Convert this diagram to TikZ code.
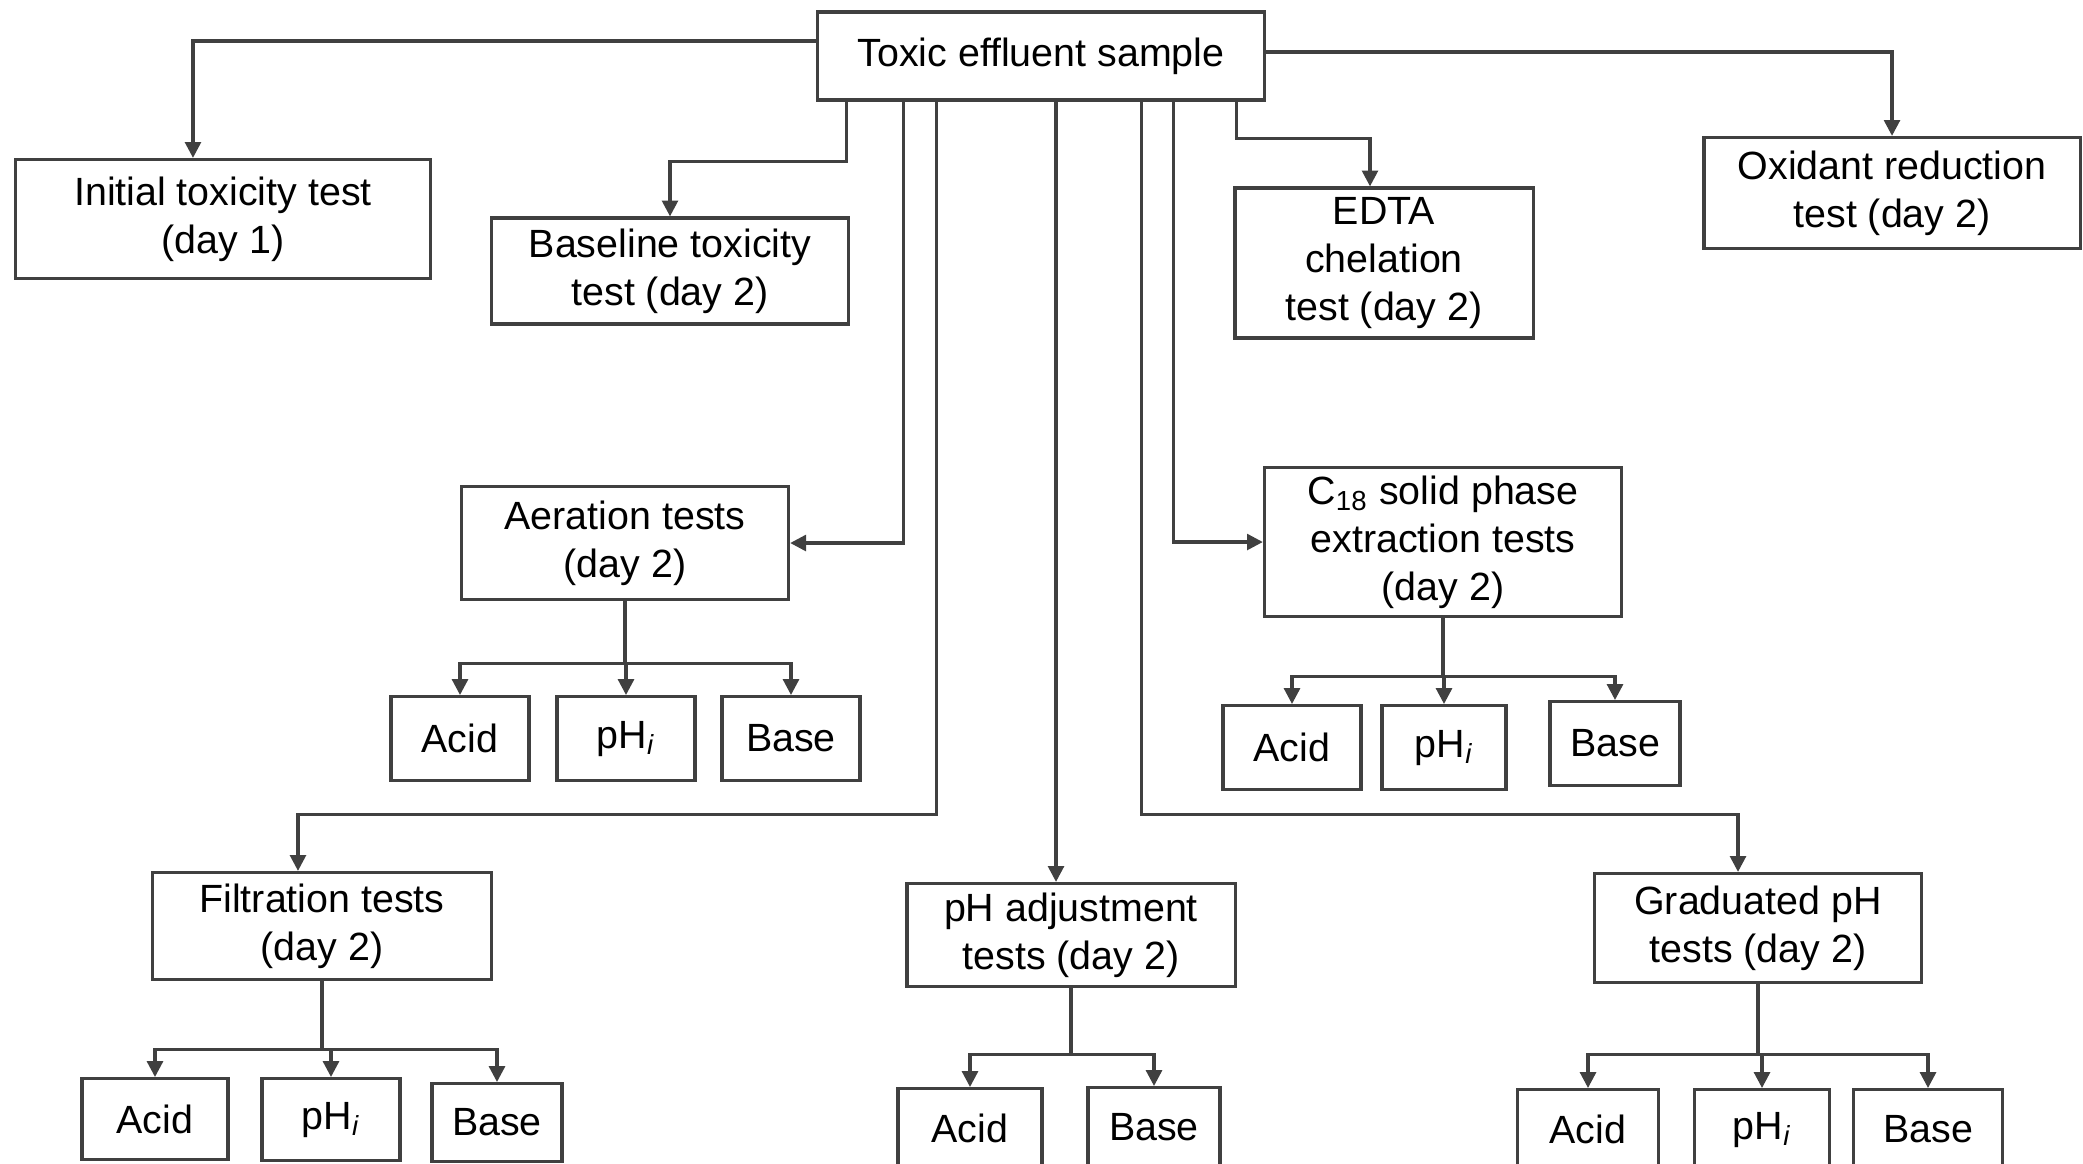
\documentclass[tikz,border=0pt]{standalone}
\usepackage{fontspec}
\setmainfont{Liberation Sans}
\usetikzlibrary{arrows.meta}

\begin{document}
\begin{tikzpicture}[x=0.01cm, y=-0.01cm,
    box/.style={draw=black!75, line width=0.9pt, align=center, inner sep=2pt,
        font=\fontsize{11.2}{13.6}\selectfont},
    leaf/.style={box, anchor=north, minimum width=1.38cm, minimum height=0.84cm},
    arr/.style={draw=black!75, line width=0.9pt, -{Triangle[length=4.5pt,width=4.5pt]}}]
    \useasboundingbox (0,0) rectangle (2083,1163);
    \clip (0,0) rectangle (2083,1163);

    % Sample
    \node[box, minimum width=4.46cm, minimum height=0.88cm] (sample) at (1041,56) {Toxic effluent sample};

    % Upper row of tests
    \node[box, minimum width=4.15cm, minimum height=1.19cm] (initial) at (223,219) {Initial toxicity test\\(day 1)};
    \node[box, minimum width=3.56cm, minimum height=1.06cm] (baseline) at (670,271) {Baseline toxicity\\test (day 2)};
    \node[box, minimum width=2.98cm, minimum height=1.50cm] (edta) at (1384,263) {EDTA\\chelation\\test (day 2)};
    \node[box, minimum width=3.76cm, minimum height=1.11cm] (oxidant) at (1892,193) {Oxidant reduction\\test (day 2)};

    % Middle row
    \node[box, minimum width=3.27cm, minimum height=1.13cm] (aeration) at (625,543) {Aeration tests\\(day 2)};
    \node[box, minimum width=3.57cm, minimum height=1.49cm] (c18) at (1443,542) {C\textsubscript{18} solid phase\\extraction tests\\(day 2)};

    % Lower row
    \node[box, minimum width=3.39cm, minimum height=1.07cm] (filtration) at (322,926) {Filtration tests\\(day 2)};
    \node[box, minimum width=3.28cm, minimum height=1.03cm] (phadj) at (1071,935) {pH adjustment\\tests (day 2)};
    \node[box, minimum width=3.27cm, minimum height=1.09cm] (graduated) at (1758,928) {Graduated pH\\tests (day 2)};

    % Acid / pH / Base boxes
    \node[leaf] (aeracid) at (460,695) {Acid};
    \node[leaf] (aerph) at (626,695) {pH\textsubscript{\itshape i}};
    \node[leaf] (aerbase) at (791,695) {Base};

    \node[leaf] (c18acid) at (1292,704) {Acid};
    \node[leaf, minimum width=1.24cm] (c18ph) at (1444,704) {pH\textsubscript{\itshape i}};
    \node[leaf, minimum width=1.30cm] (c18base) at (1615,700) {Base};

    \node[leaf, minimum width=1.46cm, minimum height=0.81cm] (filacid) at (155,1077) {Acid};
    \node[leaf, minimum height=0.82cm] (filph) at (331,1077) {pH\textsubscript{\itshape i}};
    \node[leaf, minimum width=1.30cm, minimum height=0.78cm] (filbase) at (497,1082) {Base};

    \node[leaf, minimum width=1.44cm, minimum height=0.8cm] (phacid) at (970,1087) {Acid};
    \node[leaf, minimum width=1.32cm, minimum height=0.8cm] (phbase) at (1154,1086) {Base};

    \node[leaf, minimum width=1.41cm, minimum height=0.8cm] (gradacid) at (1588,1088) {Acid};
    \node[leaf, minimum width=1.35cm, minimum height=0.8cm] (gradph) at (1762,1088) {pH\textsubscript{\itshape i}};
    \node[leaf, minimum width=1.49cm, minimum height=0.8cm] (gradbase) at (1928,1088) {Base};

    % From the sample
    \draw[arr] ([yshift=0.15cm]sample.west) -| ([xshift=-0.3cm]initial.north);
    \draw[arr] ([xshift=0.3cm]sample.south west) -- ++(0,60) -| (baseline.north);
    \draw[arr] ([xshift=-0.29cm]sample.south east) -- ++(0,37) -| ([xshift=-0.14cm]edta.north);
    \draw[arr] ([yshift=0.04cm]sample.east) -| (oxidant.north);
    \draw[arr] ([xshift=0.87cm]sample.south west) |- (aeration.east);
    \draw[arr] ([xshift=3.57cm]sample.south west) |- (c18.west);
    \draw[arr] ([xshift=1.2cm]sample.south west) -- ++(0,713) -| ([xshift=-0.24cm]filtration.north);
    \draw[arr] ([xshift=0.15cm]sample.south) -- ([xshift=0.15cm]sample.south |- phadj.north);
    \draw[arr] ([xshift=-1.24cm]sample.south east) -- ++(0,713) -| ([xshift=-0.2cm]graduated.north);

    % Into acid, pH and base
    \foreach \c in {aeracid, aerph, aerbase}
        \draw[arr] (aeration.south) -- ++(0,62) -| (\c.north);
    \foreach \c in {c18acid, c18ph, c18base}
        \draw[arr] (c18.south) -- ++(0,58) -| (\c.north);
    \foreach \c in {filacid, filph, filbase}
        \draw[arr] (filtration.south) -- ++(0,68) -| (\c.north);
    \foreach \c in {phacid, phbase}
        \draw[arr] (phadj.south) -- ++(0,66) -| (\c.north);
    \foreach \c in {gradacid, gradph, gradbase}
        \draw[arr] (graduated.south) -- ++(0,70) -| (\c.north);
\end{tikzpicture}
\end{document}
